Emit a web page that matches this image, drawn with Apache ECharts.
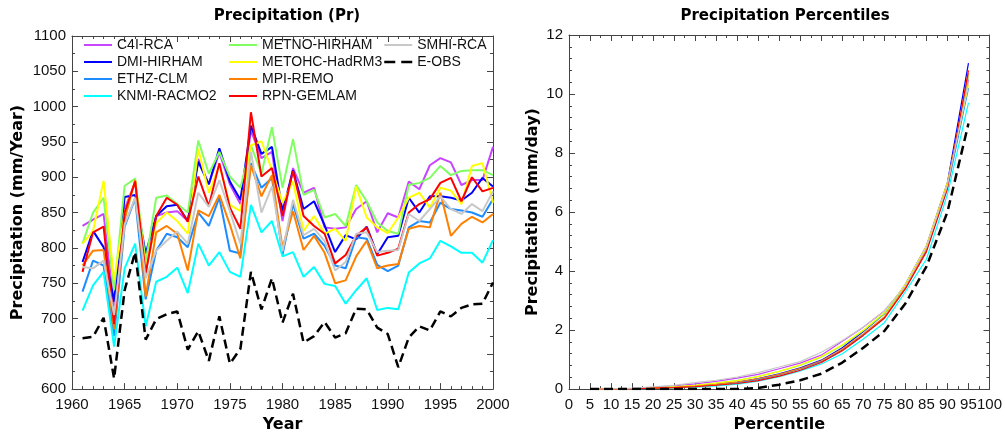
<!DOCTYPE html>
<html>
<head>
<meta charset="utf-8">
<script src="https://cdn.jsdelivr.net/npm/echarts@6/dist/echarts.min.js"></script>
<style>
  html, body { margin: 0; padding: 0; background: #ffffff; }
  #chart { width: 1005px; height: 438px; }
</style>
</head>
<body>
<div id="chart"></div>
<script>
// ---------- Annual precipitation (mm/year), 1961-2000 ----------
const years = [1961,1962,1963,1964,1965,1966,1967,1968,1969,1970,
               1971,1972,1973,1974,1975,1976,1977,1978,1979,1980,
               1981,1982,1983,1984,1985,1986,1987,1988,1989,1990,
               1991,1992,1993,1994,1995,1996,1997,1998,1999,2000];

const modelNames = ['C4I-RCA','DMI-HIRHAM','ETHZ-CLM','KNMI-RACMO2',
                    'METNO-HIRHAM','METOHC-HadRM3','MPI-REMO','RPN-GEMLAM',
                    'SMHI-RCA','E-OBS'];

const c4iRca = [831,840,848,717,855,893,765,845,850,852,838,926,890,935,890,862,966,927,936,838,
                913,878,885,829,827,829,855,866,822,849,843,894,883,917,927,921,889,896,896,943];
const dmiHirham = [780,824,801,724,872,875,792,845,859,861,838,922,890,941,894,868,973,933,943,852,
                   910,855,866,832,794,818,812,830,791,815,817,871,850,873,873,871,867,878,899,887];
const ethzClm = [738,782,775,675,830,870,727,796,820,815,801,850,831,871,796,792,920,885,899,790,
                 862,813,820,803,775,771,815,813,776,767,775,829,838,836,864,855,853,850,844,869];
const knmiRacmo2 = [711,747,766,660,771,806,689,752,759,772,736,806,775,794,766,759,861,822,838,788,
                    794,759,773,749,746,721,740,757,712,715,713,765,778,785,810,802,793,793,779,811];
const metnoHirham = [806,850,871,740,888,898,780,871,874,862,850,952,905,936,901,885,945,905,971,885,
                     954,875,882,843,848,831,889,866,836,824,820,889,892,899,916,903,909,910,910,903];
const metohcHadrm3 = [806,824,895,754,850,894,770,835,850,838,820,940,878,917,861,852,945,951,910,864,
                      894,824,845,820,827,810,887,843,829,821,843,871,878,857,885,881,862,916,920,864];
const mpiRemo = [775,796,797,685,840,896,731,822,831,820,768,853,845,875,833,785,917,873,903,800,
                 852,797,817,793,750,754,788,810,771,775,777,827,831,829,878,817,834,844,836,848];
const rpnGemlam = [766,822,830,692,850,894,764,845,871,861,837,901,859,920,857,827,992,901,913,845,
                   909,845,831,820,778,790,817,829,789,793,799,850,862,869,892,899,866,900,880,885];
const smhiRca = [773,771,782,705,833,871,757,796,810,823,806,878,858,896,852,806,936,850,887,795,
                 868,818,827,810,768,780,820,822,794,796,797,848,838,855,873,855,848,862,852,880];
const eObs = [672,674,701,615,740,794,670,699,706,710,656,682,640,703,636,657,766,713,757,694,
              735,666,675,695,673,679,714,713,687,678,631,673,689,683,710,703,715,720,721,751];

// ---------- Daily precipitation percentiles (mm/day) ----------
const percentiles = [5,10,15,20,25,30,35,40,45,50,55,60,65,70,75,80,85,90,95];

const pctC4iRca = [0,0.01,0.02,0.06,0.11,0.18,0.26,0.37,0.50,0.69,0.88,1.15,1.62,2.10,2.65,3.50,4.80,6.90,10.50];
const pctDmiHirham = [0,0,0.01,0.03,0.06,0.10,0.16,0.24,0.36,0.52,0.72,0.98,1.40,1.95,2.55,3.55,4.85,7.00,11.05];
const pctEthzClm = [0,0,0.01,0.03,0.05,0.09,0.14,0.22,0.32,0.48,0.68,0.93,1.33,1.85,2.42,3.40,4.70,6.80,10.20];
const pctKnmiRacmo2 = [0,0,0.01,0.02,0.04,0.07,0.11,0.17,0.27,0.42,0.62,0.85,1.20,1.70,2.25,3.30,4.40,6.60,9.70];
const pctMetnoHirham = [0,0,0.02,0.04,0.08,0.13,0.20,0.30,0.43,0.60,0.80,1.08,1.48,1.98,2.55,3.50,4.80,6.90,10.60];
const pctMetohcHadrm3 = [0,0,0.02,0.04,0.08,0.13,0.20,0.29,0.42,0.60,0.82,1.10,1.50,2.00,2.60,3.55,4.85,7.00,10.30];
const pctMpiRemo = [0,0,0.01,0.03,0.06,0.10,0.16,0.24,0.35,0.50,0.70,0.96,1.36,1.88,2.45,3.45,4.75,6.90,10.70];
const pctRpnGemlam = [0,0,0.01,0.03,0.05,0.08,0.13,0.19,0.29,0.44,0.64,0.90,1.30,1.82,2.40,3.40,4.65,6.80,10.80];
const pctSmhiRca = [0,0.01,0.03,0.08,0.13,0.22,0.30,0.41,0.56,0.75,0.93,1.25,1.65,2.10,2.65,3.50,4.80,6.90,10.40];
const pctEObs = [0,0,0,0,0,0,0,0,0.04,0.15,0.30,0.52,0.90,1.40,1.97,2.90,4.15,6.00,9.00];

const annual = [c4iRca, dmiHirham, ethzClm, knmiRacmo2, metnoHirham, metohcHadrm3, mpiRemo, rpnGemlam, smhiRca, eObs];
const pct = [pctC4iRca, pctDmiHirham, pctEthzClm, pctKnmiRacmo2, pctMetnoHirham, pctMetohcHadrm3, pctMpiRemo, pctRpnGemlam, pctSmhiRca, pctEObs];

const colors = ['#c844ff','#0000ff','#1e8cff','#00ffff','#80ff60','#ffff00','#ff8000','#ff0000','#c8c8c8','#000000'];

const FONT = 'Liberation Sans';
const BOLD = 'DejaVu Sans';
const AXIS_COLOR = '#444444';

// plain integer labels, no thousands separator
const plain = v => String(v);

function frameAxis(extra) {
  return Object.assign({
    type: 'value',
    axisLine: { show: true, onZero: false, lineStyle: { color: AXIS_COLOR, width: 1 } },
    axisTick: { show: true, inside: true, length: 6, lineStyle: { color: AXIS_COLOR } },
    minorTick: { show: true, length: 3, lineStyle: { color: AXIS_COLOR } },
    splitLine: { show: false },
    axisLabel: { show: true, color: '#111', fontFamily: FONT, fontSize: 15, formatter: plain },
    nameTextStyle: { color: '#000', fontFamily: BOLD, fontWeight: 'bold', fontSize: 16 }
  }, extra);
}
function mirror(base, pos) {
  const a = frameAxis(base);
  a.position = pos;
  a.axisLabel = { show: false };
  a.name = '';
  return a;
}

const leftX = { gridIndex: 0, min: 1960, max: 2000, interval: 5, minorTick: { show: true, splitNumber: 5, length: 3, lineStyle: { color: AXIS_COLOR } } };
const leftY = { gridIndex: 0, min: 600, max: 1100, interval: 50, minorTick: { show: true, splitNumber: 2, length: 3, lineStyle: { color: AXIS_COLOR } } };
const rightX = { gridIndex: 1, min: 0, max: 100, interval: 5, minorTick: { show: true, splitNumber: 2, length: 3, lineStyle: { color: AXIS_COLOR } } };
const rightY = { gridIndex: 1, min: 0, max: 12, interval: 2, minorTick: { show: true, splitNumber: 5, length: 3, lineStyle: { color: AXIS_COLOR } } };

const labelStyle = (margin) => ({ show: true, color: '#111', fontFamily: FONT, fontSize: 15, margin, formatter: plain });

const xAxes = [
  frameAxis(Object.assign({}, leftX, { position: 'bottom', name: 'Year', nameLocation: 'middle', nameGap: 25, axisLabel: labelStyle(8) })),
  mirror(leftX, 'top'),
  frameAxis(Object.assign({}, rightX, { position: 'bottom', name: 'Percentile', nameLocation: 'middle', nameGap: 25, axisLabel: labelStyle(8) })),
  mirror(rightX, 'top')
];
const yAxes = [
  frameAxis(Object.assign({}, leftY, { position: 'left', name: 'Precipitation (mm/Year)', nameLocation: 'middle', nameGap: 46, axisLabel: labelStyle(6) })),
  mirror(leftY, 'right'),
  frameAxis(Object.assign({}, rightY, { position: 'left', name: 'Precipitation (mm/day)', nameLocation: 'middle', nameGap: 28, axisLabel: labelStyle(6) })),
  mirror(rightY, 'right')
];

const series = [];
modelNames.forEach((name, i) => {
  const dashed = name === 'E-OBS';
  series.push({
    name, type: 'line', xAxisIndex: 0, yAxisIndex: 0,
    data: years.map((y, k) => [y, annual[i][k]]),
    symbol: 'none', showSymbol: false, animation: false,
    itemStyle: { color: colors[i] },
    lineStyle: { color: colors[i], width: dashed ? 2.5 : 2, type: dashed ? [9, 5] : 'solid' },
    z: dashed ? 5 : 2
  });
});
modelNames.forEach((name, i) => {
  const dashed = name === 'E-OBS';
  series.push({
    name, type: 'line', xAxisIndex: 2, yAxisIndex: 2,
    data: percentiles.map((p, k) => [p, pct[i][k]]),
    symbol: 'none', showSymbol: false, animation: false,
    itemStyle: { color: colors[i] },
    lineStyle: { color: colors[i], width: dashed ? 2.5 : 1.2, type: dashed ? [9, 5] : 'solid' },
    z: dashed ? 5 : 2
  });
});

// legend shows only the line sample, no marker; the observations get a long-dash sample
const legendItems = modelNames.map(name => name === 'E-OBS'
  ? { name, lineStyle: { type: [11, 6], width: 2.5, color: '#000' } }
  : { name });

const legendBase = {
  orient: 'vertical', itemWidth: 28, itemHeight: 10, itemGap: 3,
  itemStyle: { opacity: 0 },
  textStyle: { fontFamily: FONT, fontSize: 14, color: '#111' },
  selectedMode: false
};

const option = {
  backgroundColor: '#ffffff',
  animation: false,
  title: [
    { text: 'Precipitation (Pr)', left: 282, top: 4, textAlign: 'center',
      textStyle: { fontFamily: BOLD, fontWeight: 'bold', fontSize: 15, color: '#000' } },
    { text: 'Precipitation Percentiles', left: 780, top: 4, textAlign: 'center',
      textStyle: { fontFamily: BOLD, fontWeight: 'bold', fontSize: 15, color: '#000' } }
  ],
  grid: [
    { left: 72, right: 512, top: 36, bottom: 44 },
    { left: 569, right: 15, top: 35, bottom: 44 }
  ],
  legend: [
    Object.assign({}, legendBase, { data: legendItems.slice(0, 4), left: 78, top: 33 }),
    Object.assign({}, legendBase, { data: legendItems.slice(4, 8), left: 223, top: 33 }),
    Object.assign({}, legendBase, { data: legendItems.slice(8, 10), left: 378, top: 33 })
  ],
  xAxis: xAxes,
  yAxis: yAxes,
  series
};

const chart = echarts.init(document.getElementById('chart'), null, { renderer: 'canvas' });
chart.setOption(option);
</script>
</body>
</html>
